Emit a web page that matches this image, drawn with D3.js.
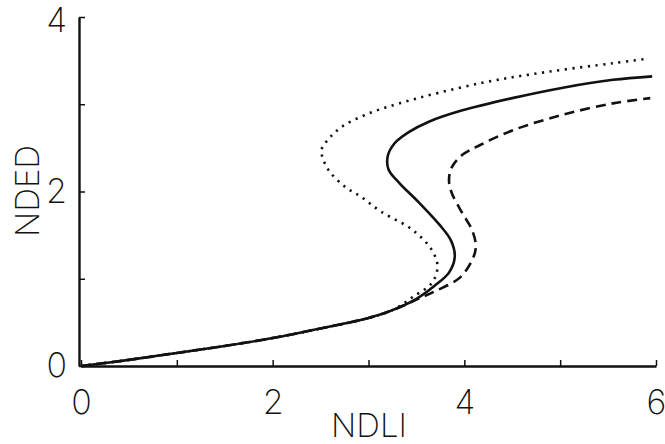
<!DOCTYPE html>
<html>
  <head>
    <meta charset="UTF-8" />
    <script src="https://cdnjs.cloudflare.com/ajax/libs/d3/7.8.5/d3.min.js"></script>
    <style>
      body {
        margin: 0;
        background: #fff;
      }
      text {
        font-family: Inter, "Liberation Sans", Arial, sans-serif;
        font-weight: 200;
        fill: #111;
      }
      .axis path,
      .axis line {
        stroke: #111;
      }
    </style>
  </head>
  <body>
    <svg id="chart" width="665" height="444"></svg>
    <script>
      // shared low branch (all three curves coincide here)
      const lowNded = [0, 0.07, 0.15, 0.23, 0.32, 0.43, 0.55, 0.64];
      const lowNdli = [0, 0.5, 1.0, 1.5, 2.0, 2.5, 3.0, 3.25];

      // solid curve
      const solidNded = [0.77, 0.92, 1.07, 1.25, 1.44, 1.62, 1.87, 2.1, 2.25, 2.4, 2.55, 2.68, 2.8, 2.93, 3.07, 3.19, 3.28, 3.32];
      const solidNdli = [3.5, 3.69, 3.84, 3.9, 3.86, 3.74, 3.53, 3.32, 3.21, 3.2, 3.27, 3.42, 3.63, 3.98, 4.5, 5.03, 5.55, 5.96];

      // dashed curve
      const dashNded = [0.76, 0.86, 1.01, 1.21, 1.37, 1.56, 1.75, 1.98, 2.13, 2.28, 2.42, 2.53, 2.7, 2.88, 3.01, 3.07];
      const dashNdli = [3.5, 3.7, 3.95, 4.08, 4.12, 4.08, 3.98, 3.87, 3.84, 3.87, 3.98, 4.16, 4.5, 5.03, 5.55, 5.94];

      // dotted curve
      const dotNded = [0.79, 0.95, 1.14, 1.33, 1.56, 1.77, 1.94, 2.05, 2.22, 2.36, 2.48, 2.61, 2.74, 2.88, 3.01, 3.24, 3.37, 3.47, 3.52];
      const dotNdli = [3.46, 3.66, 3.72, 3.66, 3.46, 3.13, 2.92, 2.76, 2.6, 2.53, 2.51, 2.59, 2.72, 2.97, 3.32, 4.16, 4.86, 5.55, 5.9];

      const xTicks = [0, 1, 2, 3, 4, 5, 6];
      const yTicks = [0, 1, 2, 3, 4];

      const svg = d3.select("#chart");
      const x = d3.scaleLinear().domain([0, 6]).range([81, 656]);
      const y = d3.scaleLinear().domain([0, 4]).range([366, 17]);

      const pts = (ys, xs) =>
        lowNded.map((v, i) => [lowNdli[i], v]).concat(ys.map((v, i) => [xs[i], v]));

      const line = d3
        .line()
        .x(d => x(d[0]))
        .y(d => y(d[1]))
        .curve(d3.curveCatmullRom.alpha(0.5));

      const series = [
        { data: pts(dotNded, dotNdli), dash: "2.2,5.5" },
        { data: pts(dashNded, dashNdli), dash: "10,6" },
        { data: pts(solidNded, solidNdli), dash: null }
      ];

      svg
        .selectAll("path.curve")
        .data(series)
        .enter()
        .append("path")
        .attr("class", "curve")
        .attr("d", d => line(d.data))
        .attr("fill", "none")
        .attr("stroke", "#111")
        .attr("stroke-width", 2.6)
        .attr("stroke-dasharray", d => d.dash);

      const xAxis = d3
        .axisBottom(x)
        .tickValues(xTicks)
        .tickSizeInner(-6)
        .tickSizeOuter(0)
        .tickPadding(24)
        .tickFormat(d => (d % 2 ? "" : d));

      const yAxis = d3
        .axisLeft(y)
        .tickValues(yTicks)
        .tickSizeInner(-6)
        .tickSizeOuter(0)
        .tickPadding(12)
        .tickFormat(d => (d % 2 ? "" : d));

      const gx = svg
        .append("g")
        .attr("class", "x axis")
        .attr("transform", "translate(0, 366)")
        .call(xAxis);
      gx.select("path.domain").attr("stroke-width", 2.4);
      gx.selectAll("line").attr("stroke-width", 1.5);
      gx.selectAll("text").style("font-size", "34px");

      const gy = svg
        .append("g")
        .attr("class", "y axis")
        .attr("transform", "translate(79, 0)")
        .call(yAxis);
      gy.select("path.domain").attr("stroke-width", 2.4);
      gy.selectAll("line").attr("stroke-width", 1.5);
      gy.selectAll("text").style("font-size", "34px");
      // keep the top label inside the window
      gy.selectAll(".tick")
        .filter(d => d === 4)
        .select("text")
        .attr("dy", "0.42em");

      svg
        .append("text")
        .attr("x", 369)
        .attr("y", 437)
        .attr("text-anchor", "middle")
        .style("font-size", "33px")
        .text("NDLI");

      svg
        .append("text")
        .attr("transform", "translate(39, 191) rotate(-90)")
        .attr("text-anchor", "middle")
        .style("font-size", "33px")
        .text("NDED");
    </script>
  </body>
</html>
